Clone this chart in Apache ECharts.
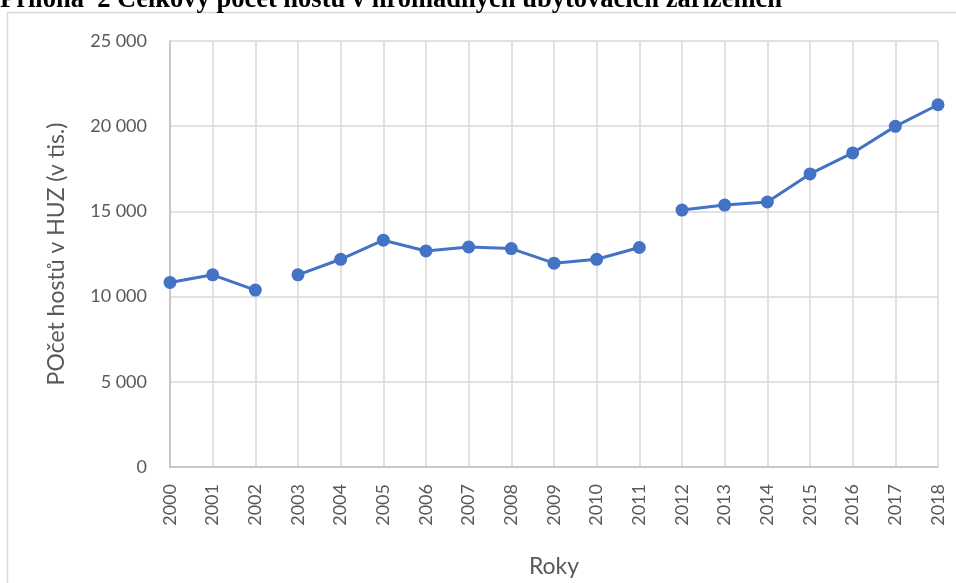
<!DOCTYPE html>
<html>
<head>
<meta charset="utf-8">
<script src="https://cdn.jsdelivr.net/npm/echarts@6/dist/echarts.min.js"></script>
<style>
  html, body { margin: 0; padding: 0; background: #fff; }
  #chartLine { width: 956px; height: 583px; }
</style>
</head>
<body>
<div id="chartLine"></div>
<script>
// roky a pocet hostu (v tis.)
var years = ['2000', '2001', '2002', '2003', '2004', '2005', '2006', '2007', '2008', '2009',
  '2010', '2011', '2012', '2013', '2014', '2015', '2016', '2017', '2018']
var guests = [10830, 11280, 10380, 11280, 12190, 13310, 12680, 12910, 12820, 11960,
  12190, 12880, 15080, 15370, 15550, 17200, 18430, 19990, 21260]
// useky linky (index od, index do) - mezi nimi je linka prerusena
var segments = [[0, 2], [3, 11], [12, 18]]
var yTicks = [0, 5000, 10000, 15000, 20000, 25000]

var blue = '#4472C4'
var labelColor = '#595959'
var gridColor = '#d9d9d9'

function fmt (v) {
  return String(v).replace(/\B(?=(\d{3})+(?!\d))/g, ' ')
}

var series = segments.map(function (s) {
  return {
    type: 'line',
    data: guests.map(function (v, i) { return (i >= s[0] && i <= s[1]) ? v : null }),
    connectNulls: false,
    symbol: 'circle',
    symbolSize: 13,
    itemStyle: { color: blue },
    lineStyle: { color: blue, width: 3 },
    emphasis: { disabled: true }
  }
})

var chartLine = echarts.init(document.getElementById('chartLine'))
chartLine.setOption({
  animation: false,
  title: {
    text: 'Příloha  2 Celkový počet hostů v hromadných ubytovacích zařízeních',
    left: 0,
    top: -13,
    padding: 0,
    textStyle: {
      fontFamily: 'Liberation Serif',
      fontWeight: 'bold',
      fontSize: 26.5,
      color: '#000'
    }
  },
  graphic: [{
    type: 'rect',
    shape: { x: 7.5, y: 12.5, width: 1000, height: 700 },
    style: { fill: 'none', stroke: gridColor, lineWidth: 1.5 },
    z: -1
  }],
  grid: {
    left: 170,
    right: 18,
    top: 41,
    bottom: 114.5
  },
  xAxis: {
    type: 'category',
    data: years,
    boundaryGap: false,
    name: 'Roky',
    nameLocation: 'middle',
    nameGap: 88,
    nameTextStyle: { fontFamily: 'Lato', fontSize: 23, color: labelColor },
    axisLine: { lineStyle: { color: '#bfbfbf', width: 1.5 } },
    axisTick: { show: false },
    axisLabel: {
      rotate: 90,
      margin: 17,
      fontFamily: 'Lato',
      fontSize: 18,
      color: labelColor
    },
    splitLine: { show: true, lineStyle: { color: gridColor, width: 1.5 } }
  },
  yAxis: {
    type: 'value',
    min: yTicks[0],
    max: yTicks[yTicks.length - 1],
    interval: yTicks[1] - yTicks[0],
    name: 'POčet hostů v HUZ (v tis.)',
    nameLocation: 'middle',
    nameGap: 102,
    nameTextStyle: { fontFamily: 'Lato', fontSize: 23, color: labelColor },
    axisLine: { show: true, lineStyle: { color: '#bfbfbf', width: 1.5 } },
    axisTick: { show: false },
    axisLabel: {
      margin: 23,
      fontFamily: 'Lato',
      fontSize: 18,
      color: labelColor,
      formatter: fmt
    },
    splitLine: { show: true, lineStyle: { color: gridColor, width: 1.5 } }
  },
  series: series
})
</script>
</body>
</html>
